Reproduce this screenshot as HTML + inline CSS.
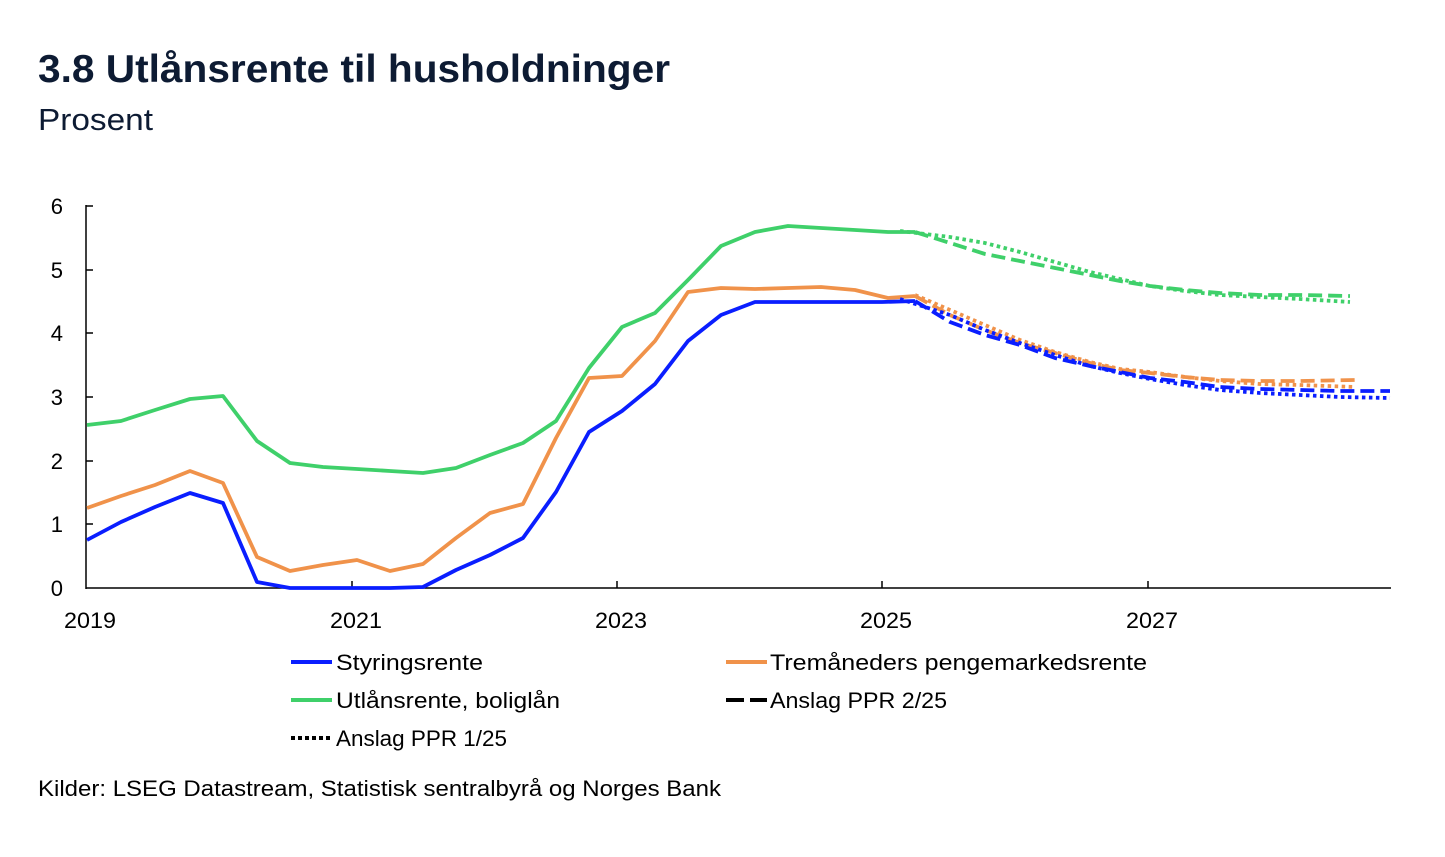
<!DOCTYPE html>
<html><head><meta charset="utf-8"><style>
body{margin:0;background:#fff;width:1445px;height:852px;overflow:hidden;font-family:"Liberation Sans",sans-serif}
</style></head><body>
<svg width="1445" height="852" xmlns="http://www.w3.org/2000/svg" font-family="Liberation Sans, sans-serif">
<text x="38" y="82" font-size="39" font-weight="bold" fill="#0d1b33" textLength="632" lengthAdjust="spacingAndGlyphs">3.8 Utlånsrente til husholdninger</text>
<text x="38" y="130" font-size="31" fill="#0d1b33" textLength="115" lengthAdjust="spacingAndGlyphs">Prosent</text>
<g stroke="#000" stroke-width="1.5" fill="none">
<line x1="86" y1="205" x2="86" y2="589"/>
<line x1="86" y1="588" x2="1391" y2="588"/>
<line x1="86" y1="206" x2="93" y2="206"/><line x1="86" y1="270" x2="93" y2="270"/><line x1="86" y1="333" x2="93" y2="333"/><line x1="86" y1="397" x2="93" y2="397"/><line x1="86" y1="461" x2="93" y2="461"/><line x1="86" y1="524" x2="93" y2="524"/>
<line x1="352" y1="581" x2="352" y2="588"/><line x1="617" y1="581" x2="617" y2="588"/><line x1="882" y1="581" x2="882" y2="588"/><line x1="1148" y1="581" x2="1148" y2="588"/>
</g>
<g font-size="22" fill="#000" text-anchor="end">
<text x="63" y="214">6</text><text x="63" y="278">5</text><text x="63" y="341">4</text><text x="63" y="405">3</text><text x="63" y="469">2</text><text x="63" y="532">1</text><text x="63" y="596">0</text>
</g>
<g font-size="22" fill="#000">
<text x="64" y="628" textLength="52" lengthAdjust="spacingAndGlyphs">2019</text><text x="330" y="628" textLength="52" lengthAdjust="spacingAndGlyphs">2021</text><text x="595" y="628" textLength="52" lengthAdjust="spacingAndGlyphs">2023</text><text x="860" y="628" textLength="52" lengthAdjust="spacingAndGlyphs">2025</text><text x="1126" y="628" textLength="52" lengthAdjust="spacingAndGlyphs">2027</text>
</g>
<g fill="none" stroke-width="3.8" stroke-linejoin="round">
<polyline stroke="#3fd06a" points="87,425 121,421 155,410 190,399 223,396 257,441 290,463 323,467 357,469 390,471 423,473 456,468 490,455 523,443 556,421 589,368 622,327 655,313 688,280 721,246 755,232 788,226 821,228 855,230 888,232 915,232"/>
<polyline stroke="#3fd06a" stroke-dasharray="14,6" points="915,232 950,243 985,254 1020,261 1055,268 1090,275 1120,281 1150,286 1185,290 1220,293 1260,295 1300,295 1350,296"/>
<polyline stroke="#3fd06a" stroke-dasharray="3.5,3.5" points="900,231 950,237 985,243 1020,252 1055,262 1090,272 1120,279 1150,286 1185,291 1220,295 1260,297 1300,299 1350,302"/>
<polyline stroke="#f0924a" points="87,508 121,496 155,485 190,471 223,483 257,557 290,571 323,565 357,560 390,571 423,564 456,538 490,513 523,504 556,438 589,378 622,376 655,341 688,292 721,288 755,289 788,288 821,287 855,290 888,298 915,296"/>
<polyline stroke="#f0924a" stroke-dasharray="14,6" points="915,296 950,315 985,330 1020,343 1055,353 1090,363 1120,370 1150,373 1185,377 1220,380 1260,381 1300,381 1355,380"/>
<polyline stroke="#f0924a" stroke-dasharray="3.5,3.5" points="915,295 950,310 985,325 1020,340 1055,352 1090,362 1120,369 1150,372 1185,377 1220,381 1260,384 1300,385 1355,387"/>
<polyline stroke="#0a1eff" points="87,540 121,522 155,507 190,493 223,503 257,582 290,588 323,588 357,588 390,588 423,587 456,570 490,555 523,538 556,492 589,432 622,411 655,384 688,341 721,315 755,302 788,302 821,302 855,302 882,302 915,301"/>
<polyline stroke="#0a1eff" stroke-dasharray="14,6" points="915,301 950,322 985,335 1020,345 1055,358 1090,366 1120,372 1150,378 1185,382 1220,387 1260,389 1300,390 1340,391 1390,391"/>
<polyline stroke="#0a1eff" stroke-dasharray="3.5,3.5" points="900,299 950,315 985,330 1020,343 1055,355 1090,366 1120,373 1150,379 1185,385 1220,390 1260,393 1300,395 1340,397 1390,398"/>
</g>
<g stroke-width="4">
<line x1="291" y1="662" x2="332" y2="662" stroke="#0a1eff"/>
<line x1="726" y1="662" x2="767" y2="662" stroke="#f0924a"/>
<line x1="291" y1="700" x2="332" y2="700" stroke="#3fd06a"/>
<line x1="726" y1="700" x2="767" y2="700" stroke="#000" stroke-dasharray="18,6"/>
<line x1="291" y1="738" x2="332" y2="738" stroke="#000" stroke-dasharray="4,3"/>
</g>
<g font-size="22" fill="#000">
<text x="336" y="670" textLength="147" lengthAdjust="spacingAndGlyphs">Styringsrente</text>
<text x="770" y="670" textLength="377" lengthAdjust="spacingAndGlyphs">Tremåneders pengemarkedsrente</text>
<text x="336" y="708" textLength="224" lengthAdjust="spacingAndGlyphs">Utlånsrente, boliglån</text>
<text x="770" y="708" textLength="177" lengthAdjust="spacingAndGlyphs">Anslag PPR 2/25</text>
<text x="336" y="746" textLength="171" lengthAdjust="spacingAndGlyphs">Anslag PPR 1/25</text>
<text x="38" y="796" textLength="683" lengthAdjust="spacingAndGlyphs">Kilder: LSEG Datastream, Statistisk sentralbyrå og Norges Bank</text>
</g>
</svg>
</body></html>
